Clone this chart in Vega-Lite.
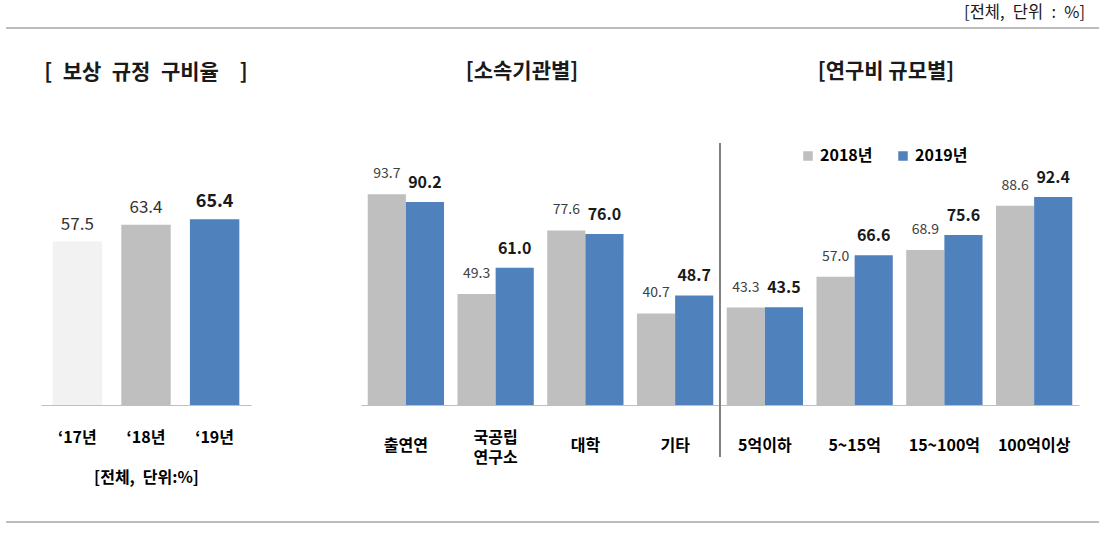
{
  "$schema": "https://vega.github.io/schema/vega-lite/v6.json",
  "bounds": "flush",
  "spacing": 110,
  "padding": {"left": 5, "top": 0, "right": 5, "bottom": 8},
  "background": "white",
  "resolve": {"scale": {"color": "independent", "y": "independent", "x": "independent"}, "legend": {"color": "independent"}},
  "config": {
    "view": {"stroke": null},
    "font": "Noto Sans CJK KR",
    "axis": {"labelFont": "Noto Sans CJK KR", "titleFont": "Noto Sans CJK KR"},
    "legend": {"labelFont": "Noto Sans CJK KR"}
  },
  "hconcat": [
    {
      "width": 210,
      "height": 405,
      "data": {"values": [
        {"year": "‘17년", "rate": 57.5, "emph": "no"},
        {"year": "‘18년", "rate": 63.4, "emph": "no"},
        {"year": "‘19년", "rate": 65.4, "emph": "yes"}
      ]},
      "layer": [
        {
          "mark": {"type": "bar"},
          "encoding": {
            "x": {"field": "year", "type": "nominal", "sort": null,
              "scale": {"paddingInner": 0.28, "paddingOuter": 0.17},
              "axis": {"title": "[전체,\u2002단위:%]", "labelAngle": 0, "labelFontWeight": "bold", "labelFontSize": 16, "labelColor": "#000000", "labelPadding": 32, "labelBaseline": "middle", "ticks": false, "domainColor": "#bfbfbf", "titleFontSize": 16, "titleFontWeight": "bold", "titlePadding": 24, "titleColor": "#000000"}},
            "y": {"field": "rate", "type": "quantitative", "scale": {"domain": [0, 142.5], "nice": false}, "axis": null},
            "color": {"field": "year", "type": "nominal", "sort": null,
              "scale": {"domain": ["‘17년", "‘18년", "‘19년"], "range": ["#f2f2f2", "#bfbfbf", "#4f81bd"]}, "legend": null}
          }
        },
        {
          "transform": [{"filter": "datum.emph == 'no'"}],
          "mark": {"type": "text", "baseline": "bottom", "dy": -8, "fontSize": 17, "color": "#333333"},
          "encoding": {
            "x": {"field": "year", "type": "nominal", "sort": null},
            "y": {"field": "rate", "type": "quantitative"},
            "text": {"field": "rate", "type": "quantitative", "format": ".1f"}
          }
        },
        {
          "transform": [{"filter": "datum.emph == 'yes'"}],
          "mark": {"type": "text", "baseline": "bottom", "dy": -8, "fontSize": 18, "fontWeight": "bold", "color": "#1a1a1a"},
          "encoding": {
            "x": {"field": "year", "type": "nominal", "sort": null},
            "y": {"field": "rate", "type": "quantitative"},
            "text": {"field": "rate", "type": "quantitative", "format": ".1f"}
          }
        },
        {
          "data": {"values": [{"label": "[\u2002보상\u2002규정\u2002구비율\u2003]"}]},
          "mark": {"type": "text", "baseline": "middle", "fontSize": 21, "fontWeight": "bold", "color": "#1a1a1a"},
          "encoding": {
            "y": {"datum": 116.9, "type": "quantitative"},
            "text": {"field": "label"}
          }
        }
      ]
    },
    {
      "width": 718,
      "height": 405,
      "data": {"values": [
        {"cat": "출연연", "year": "2018년", "value": 93.7},
        {"cat": "출연연", "year": "2019년", "value": 90.2},
        {"cat": "국공립 연구소", "year": "2018년", "value": 49.3},
        {"cat": "국공립 연구소", "year": "2019년", "value": 61.0},
        {"cat": "대학", "year": "2018년", "value": 77.6},
        {"cat": "대학", "year": "2019년", "value": 76.0},
        {"cat": "기타", "year": "2018년", "value": 40.7},
        {"cat": "기타", "year": "2019년", "value": 48.7},
        {"cat": "5억이하", "year": "2018년", "value": 43.3},
        {"cat": "5억이하", "year": "2019년", "value": 43.5},
        {"cat": "5~15억", "year": "2018년", "value": 57.0},
        {"cat": "5~15억", "year": "2019년", "value": 66.6},
        {"cat": "15~100억", "year": "2018년", "value": 68.9},
        {"cat": "15~100억", "year": "2019년", "value": 75.6},
        {"cat": "100억이상", "year": "2018년", "value": 88.6},
        {"cat": "100억이상", "year": "2019년", "value": 92.4}
      ]},
      "layer": [
        {
          "mark": {"type": "bar"},
          "encoding": {
            "x": {"field": "cat", "type": "nominal", "sort": null, "title": null,
              "scale": {"paddingInner": 0.15, "paddingOuter": 0.075},
              "axis": {"title": null, "labelAngle": 0, "labelExpr": "split(datum.label, ' ')", "labelFontWeight": "bold", "labelFontSize": 16, "labelColor": "#000000", "labelPadding": 40,
                "labelBaseline": {"condition": {"test": "datum.value == '국공립 연구소'", "value": "bottom"}, "value": "middle"},
                "labelLineHeight": 20, "ticks": false, "domainColor": "#bfbfbf"}},
            "xOffset": {"field": "year", "type": "nominal", "sort": null},
            "y": {"field": "value", "type": "quantitative", "scale": {"domain": [0, 180], "nice": false}, "axis": null},
            "color": {"field": "year", "type": "nominal",
              "scale": {"domain": ["2018년", "2019년"], "range": ["#bfbfbf", "#4f81bd"]},
              "legend": {"orient": "none", "legendX": 439, "legendY": 148, "direction": "horizontal", "title": null, "symbolType": "square", "symbolSize": 90, "symbolStrokeWidth": 0, "labelFontSize": 16, "labelFontWeight": "bold", "labelColor": "#000000", "columnPadding": 22, "labelOffset": 4}}
          }
        },
        {
          "transform": [{"filter": "datum.year == '2018년'"}],
          "mark": {"type": "text", "baseline": "bottom", "dy": -13, "fontSize": 14, "color": "#404040"},
          "encoding": {
            "x": {"field": "cat", "type": "nominal", "sort": null, "title": null},
            "xOffset": {"field": "year", "type": "nominal", "sort": null},
            "y": {"field": "value", "type": "quantitative"},
            "text": {"field": "value", "type": "quantitative", "format": ".1f"}
          }
        },
        {
          "transform": [{"filter": "datum.year == '2019년'"}],
          "mark": {"type": "text", "baseline": "bottom", "dy": -11, "fontSize": 16, "fontWeight": "bold", "color": "#1a1a1a"},
          "encoding": {
            "x": {"field": "cat", "type": "nominal", "sort": null, "title": null},
            "xOffset": {"field": "year", "type": "nominal", "sort": null},
            "y": {"field": "value", "type": "quantitative"},
            "text": {"field": "value", "type": "quantitative", "format": ".1f"}
          }
        },
        {
          "data": {"values": [{"label": "[소속기관별]"}]},
          "mark": {"type": "text", "baseline": "middle", "fontSize": 21, "fontWeight": "bold", "color": "#1a1a1a"},
          "encoding": {
            "x": {"datum": "국공립 연구소", "bandPosition": 0.846, "title": null},
            "y": {"datum": 148, "type": "quantitative"},
            "text": {"field": "label"}
          }
        },
        {
          "data": {"values": [{"label": "[연구비 규모별]"}]},
          "mark": {"type": "text", "baseline": "middle", "fontSize": 21, "fontWeight": "bold", "color": "#1a1a1a"},
          "encoding": {
            "x": {"datum": "5~15억", "bandPosition": 0.911, "title": null},
            "y": {"datum": 148, "type": "quantitative"},
            "text": {"field": "label"}
          }
        },
        {
          "data": {"values": [{"label": "[전체,\u2002단위\u2002:\u2002%]"}]},
          "mark": {"type": "text", "baseline": "middle", "align": "right", "fontSize": 16.5, "color": "#1a1a1a"},
          "encoding": {
            "x": {"datum": "100억이상", "bandPosition": 1.168, "title": null},
            "y": {"datum": 174.2, "type": "quantitative"},
            "text": {"field": "label"}
          }
        },
        {
          "data": {"values": [{}]},
          "mark": {"type": "rule", "color": "#808080", "strokeWidth": 2},
          "encoding": {
            "x": {"datum": "기타", "bandPosition": 1.088, "title": null},
            "y": {"datum": 116.4, "type": "quantitative"},
            "y2": {"datum": -23.1}
          }
        },
        {
          "data": {"values": [{}]},
          "mark": {"type": "rule", "color": "#a6a6a6", "strokeWidth": 1.5},
          "encoding": {
            "x": {"datum": "출연연", "bandPosition": -4.74, "title": null},
            "x2": {"datum": "100억이상", "bandPosition": 1.351},
            "y": {"datum": 167.6, "type": "quantitative"}
          }
        },
        {
          "data": {"values": [{}]},
          "mark": {"type": "rule", "color": "#a6a6a6", "strokeWidth": 1.5},
          "encoding": {
            "x": {"datum": "출연연", "bandPosition": -4.74, "title": null},
            "x2": {"datum": "100억이상", "bandPosition": 1.351},
            "y": {"datum": -52, "type": "quantitative"}
          }
        }
      ]
    }
  ]
}
